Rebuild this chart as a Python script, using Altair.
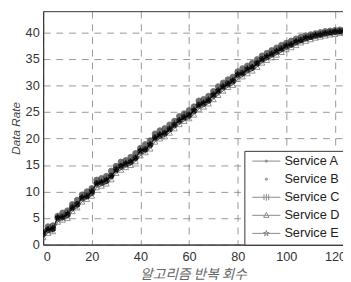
import altair as alt
import pandas as pd

SERIES = ["Service A", "Service B", "Service C", "Service D", "Service E"]
ITER = list(range(0, 125, 2))

A = [2.0,2.8,3.0,5.0,5.3,5.6,7.0,7.6,8.8,9.2, 9.8,11.6,11.7,12.0,13.0,14.2,14.8,15.2,15.6,16.4,
     17.6,18.0,18.8,20.2,20.6,21.0,21.8,22.6,23.4,24.0, 24.4,25.2,26.4,26.6,27.2,28.2,29.0,29.8,30.4,30.8,
     32.0,32.4,33.0,33.4,34.2,35.0,35.4,36.0,36.4,37.0, 37.4,37.8,38.2,38.6,38.9,39.2,39.4,39.6,39.8,40.0,
     40.1,40.2,40.3]
B = [2.4,3.4,3.6,5.4,6.0,6.4,7.6,8.4,9.4,10.0, 10.6,12.2,12.5,12.9,13.9,14.8,15.6,15.9,16.5,17.2,
     18.2,18.9,19.6,20.9,21.5,21.9,22.6,23.3,24.2,24.7, 25.3,26.0,27.1,27.4,28.0,28.9,29.8,30.5,31.1,31.6,
     32.6,33.2,33.7,34.2,34.9,35.6,36.1,36.6,37.1,37.6, 38.0,38.4,38.8,39.1,39.4,39.6,39.8,40.0,40.2,40.3,
     40.4,40.5,40.5]
C = [2.4,3.0,2.7,5.2,5.0,6.0,7.3,7.2,9.0,9.0, 10.4,11.4,11.9,12.5,12.8,14.5,14.6,15.5,15.4,16.2,
     17.9,17.7,19.0,20.0,20.9,20.7,22.0,22.9,23.1,24.3, 24.1,25.5,26.1,26.9,27.5,28.0,28.7,30.0,30.1,31.1,
     32.3,32.1,33.3,33.2,34.5,34.7,35.6,35.8,36.6,36.8, 37.6,37.6,38.4,38.4,39.1,39.1,39.6,39.5,39.9,40.1,
     40.0,40.3,40.4]
D = [1.4,2.2,2.5,4.3,4.7,5.0,6.3,7.0,8.1,8.6, 9.2,10.8,11.1,11.5,12.3,13.5,14.1,14.6,15.0,15.7,
     16.8,17.4,18.1,19.4,20.0,20.4,21.1,21.9,22.7,23.3, 23.8,24.5,25.6,26.0,26.6,27.4,28.2,29.0,29.7,30.1,
     31.2,31.7,32.3,32.8,33.5,34.3,34.8,35.3,35.8,36.3, 36.8,37.2,37.6,38.1,38.4,38.7,39.0,39.2,39.4,39.6,
     39.7,39.9,40.0]
E = [2.2,2.9,3.1,5.1,5.2,5.8,6.8,7.7,8.9,9.1, 10.0,11.5,11.8,12.2,12.9,14.0,14.9,15.3,15.7,16.3,
     17.7,17.9,18.9,20.1,20.7,21.1,21.7,22.5,23.5,23.9, 24.5,25.3,26.3,26.7,27.1,28.3,29.1,29.7,30.3,30.9,
     32.1,32.3,33.1,33.5,34.1,34.9,35.5,35.9,36.5,36.9, 37.5,37.7,38.3,38.5,39.0,39.1,39.5,39.6,39.9,39.9,
     40.2,40.1,40.3]

X_TICKS = [0, 20, 40, 60, 80, 100, 120]
Y_TICKS = [0, 5, 10, 15, 20, 25, 30, 35, 40]

rows = []
for name, vals in zip(SERIES, [A, B, C, D, E]):
    for it, v in zip(ITER, vals):
        rows.append({"iter": it, "rate": v, "series": name})
df = pd.DataFrame(rows)

COLORS = ["#000000", "#333333", "#111111", "#555555", "#000000"]
FILLS = ["#000000", "#333333", "transparent", "transparent", "#000000"]

STAR = "M0,-1L0.22,-0.3L0.95,-0.3L0.36,0.11L0.59,0.81L0,0.38L-0.59,0.81L-0.36,0.11L-0.95,-0.3L-0.22,-0.3Z"
PLOT_SHAPES = ["circle", "circle", "M-1,0L1,0M0,-1L0,1", "triangle-up", STAR]

LINE = "M-4.8,0L4.8,0"
LEG_SHAPES = [
    LINE + "M-0.3,-0.3L0.3,-0.3L0.3,0.3L-0.3,0.3Z",
    "M-0.3,-0.3L0.3,-0.3L0.3,0.3L-0.3,0.3Z",
    LINE + "M0,-1.2L0,1.2M-0.8,-1L-0.8,1M0.8,-1L0.8,1",
    LINE + "M0,-1L0.9,0.7L-0.9,0.7Z",
    LINE + STAR,
]
LEG_COLORS = ["#111111", "#777777", "#333333", "#9a9a9a", "#1a1a1a"]

x_enc = alt.X("iter:Q", scale=alt.Scale(domain=[0, 123.3], nice=False),
              axis=alt.Axis(values=X_TICKS, title="알고리즘 반복 회수"))
y_enc = alt.Y("rate:Q", scale=alt.Scale(domain=[0, 44], nice=False),
              axis=alt.Axis(values=Y_TICKS, title="Data Rate"))

base = alt.Chart(df)

lines = base.mark_line(strokeWidth=0.9, clip=True).encode(
    x=x_enc, y=y_enc,
    stroke=alt.Stroke("series:N", scale=alt.Scale(domain=SERIES, range=COLORS), legend=None),
    detail="series:N",
).transform_filter(alt.datum.series != "Service B")

pts = base.mark_point(strokeWidth=0.9, clip=True, size=34).encode(
    x=x_enc, y=y_enc,
    shape=alt.Shape("series:N", scale=alt.Scale(domain=SERIES, range=PLOT_SHAPES), legend=None),
    stroke=alt.Stroke("series:N", scale=alt.Scale(domain=SERIES, range=COLORS), legend=None),
    fill=alt.Fill("series:N", scale=alt.Scale(domain=SERIES, range=FILLS), legend=None),
)

leg = base.mark_point(filled=False, opacity=0, strokeWidth=1, clip=True).encode(
    x=x_enc, y=y_enc,
    shape=alt.Shape("series:N", scale=alt.Scale(domain=SERIES, range=LEG_SHAPES),
                    legend=alt.Legend(title=None)),
    color=alt.Color("series:N", scale=alt.Scale(domain=SERIES, range=LEG_COLORS),
                    legend=alt.Legend(title=None)),
)

chart = alt.layer(lines, pts, leg).resolve_scale(
    shape="independent"
).properties(
    width=307, height=239,
    autosize=alt.AutoSizeParams(type="none"),
    padding={"left": 36, "top": 0, "right": 0, "bottom": 35},
).configure_view(
    stroke="#333333", strokeWidth=1
).configure_axis(
    labelFont="Liberation Sans", labelFontSize=13, labelColor="#333333",
    titleFont="Liberation Sans", titleFontSize=12, titleFontWeight="normal",
    titleFontStyle="italic", titleColor="#444444",
    grid=True, gridDash=[7, 6], gridColor="#6a6a6a", gridWidth=0.7,
    domainColor="#333333", domainWidth=1, ticks=False,
).configure_axisY(
    labelPadding=4, titlePadding=3,
).configure_axisX(
    labelPadding=6, titlePadding=5, titleFont="Noto Sans CJK KR", titleFontSize=14,
    titleColor="#666666",
).configure_legend(
    orient="none", legendX=206, legendY=143,
    strokeColor="#333333", fillColor="white", padding=4,
    symbolOpacity=1, symbolSize=36, symbolStrokeWidth=1, symbolOffset=12,
    labelFont="Liberation Sans", labelFontSize=13, labelColor="#222222",
    labelOffset=12, rowPadding=4.5, cornerRadius=0,
)

chart.save("out.html", embed_options={"renderer": "svg", "actions": False})
